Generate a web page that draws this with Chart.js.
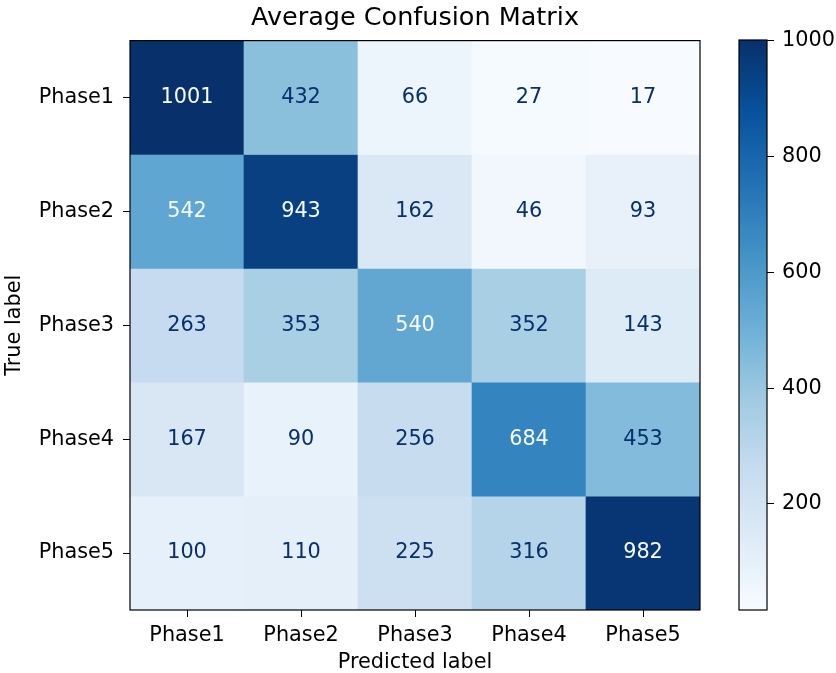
<!DOCTYPE html>
<html>
<head>
<meta charset="utf-8">
<script src="https://cdn.jsdelivr.net/npm/chart.js@4/dist/chart.umd.min.js"></script>
<style>
  body { margin: 0; background: #fff; }
  #wrap { position: relative; width: 836px; height: 673px; }
  #wrap canvas { position: absolute; top: 0; }
  #matrix { left: 0; }
  #cbar { left: 720px; }
</style>
</head>
<body>
<div id="wrap">
  <canvas id="matrix" width="720" height="673"></canvas>
  <canvas id="cbar" width="116" height="673"></canvas>
</div>
<script>
// data
const predictedLabels = ["Phase1", "Phase2", "Phase3", "Phase4", "Phase5"];
const trueLabels = ["Phase1", "Phase2", "Phase3", "Phase4", "Phase5"];
const row1 = [1001, 432, 66, 27, 17];
const row2 = [542, 943, 162, 46, 93];
const row3 = [263, 353, 540, 352, 143];
const row4 = [167, 90, 256, 684, 453];
const row5 = [100, 110, 225, 316, 982];
const rows = [row1, row2, row3, row4, row5];
const colorbarTicks = [200, 400, 600, 800, 1000];

const vmin = Math.min(...rows.flat());
const vmax = Math.max(...rows.flat());

// matplotlib "Blues"
const blues = [
  [247, 251, 255], [222, 235, 247], [198, 219, 239], [158, 202, 225],
  [107, 174, 214], [66, 146, 198], [33, 113, 181], [8, 81, 156], [8, 48, 107]
];

function bluesColor(t) {
  t = Math.max(0, Math.min(1, t));
  const pos = t * (blues.length - 1);
  const i = Math.min(Math.floor(pos), blues.length - 2);
  const f = pos - i;
  const c = blues[i].map((v, k) => Math.round(v + (blues[i + 1][k] - v) * f));
  return `rgb(${c[0]},${c[1]},${c[2]})`;
}

const norm = v => (v - vmin) / (vmax - vmin);
const FONT = "'DejaVu Sans', sans-serif";
const TICK_SIZE = 20.8;

// draws the black frame round the plot area
const framePlugin = {
  id: 'frame',
  afterDatasetsDraw(chart) {
    const { ctx, chartArea: a } = chart;
    ctx.save();
    ctx.strokeStyle = '#000';
    ctx.lineWidth = 1.2;
    ctx.strokeRect(a.left, a.top, a.right - a.left, a.bottom - a.top);
    ctx.restore();
  }
};

// writes the count in each cell
const cellTextPlugin = {
  id: 'cellText',
  afterDatasetsDraw(chart) {
    const { ctx } = chart;
    const xs = chart.scales.x, ys = chart.scales.y;
    const thresh = (vmin + vmax) / 2;
    ctx.save();
    ctx.font = `${TICK_SIZE}px ${FONT}`;
    ctx.textAlign = 'center';
    ctx.textBaseline = 'middle';
    rows.forEach((row, r) => {
      row.forEach((v, c) => {
        ctx.fillStyle = v < thresh ? bluesColor(1) : bluesColor(0);
        ctx.fillText(String(v), xs.getPixelForValue(c), ys.getPixelForValue(r));
      });
    });
    ctx.restore();
  }
};

new Chart(document.getElementById('matrix'), {
  type: 'bar',
  data: {
    labels: predictedLabels,
    datasets: rows.map((row, r) => ({
      label: trueLabels[r],
      data: row.map(() => [r - 0.5, r + 0.5]),
      backgroundColor: row.map(v => bluesColor(norm(v))),
      borderWidth: 0,
      barPercentage: 1,
      categoryPercentage: 1,
      grouped: false
    }))
  },
  options: {
    responsive: false,
    devicePixelRatio: 1,
    animation: false,
    layout: { padding: { top: 0, right: 20, bottom: 0, left: 0 } },
    plugins: {
      legend: { display: false },
      tooltip: { enabled: false },
      title: {
        display: true,
        text: 'Average Confusion Matrix',
        fullSize: false,
        color: '#000',
        font: { family: FONT, size: 25.5, weight: 'normal' },
        padding: { top: 3, bottom: 7 }
      }
    },
    scales: {
      x: {
        type: 'category',
        offset: true,
        grid: { display: true, offset: false, drawOnChartArea: false, drawTicks: true, tickLength: 7, tickColor: '#000' },
        border: { display: false },
        ticks: { color: '#000', font: { family: FONT, size: TICK_SIZE }, padding: 6, maxRotation: 0 },
        title: { display: true, text: 'Predicted label', color: '#000', font: { family: FONT, size: TICK_SIZE }, padding: { top: 0, bottom: -2 } },
        afterFit(scale) { scale.height = 63; }
      },
      y: {
        type: 'linear',
        min: -0.5,
        max: 4.5,
        reverse: true,
        grid: { display: true, drawOnChartArea: false, drawTicks: true, tickLength: 7, tickColor: '#000' },
        border: { display: false },
        afterBuildTicks(scale) { scale.ticks = trueLabels.map((_, i) => ({ value: i })); },
        ticks: {
          color: '#000',
          font: { family: FONT, size: TICK_SIZE },
          padding: 9,
          autoSkip: false,
          callback: v => trueLabels[v]
        },
        title: { display: true, text: 'True label', color: '#000', font: { family: FONT, size: TICK_SIZE }, padding: { top: 2.5, bottom: 0 } },
        afterFit(scale) { scale.width = 130; }
      }
    }
  },
  plugins: [framePlugin, cellTextPlugin]
});

// colorbar
new Chart(document.getElementById('cbar'), {
  type: 'bar',
  data: {
    labels: [''],
    datasets: [{
      data: [[vmin, vmax]],
      borderWidth: 0,
      barPercentage: 1,
      categoryPercentage: 1,
      backgroundColor(ctx) {
        const a = ctx.chart.chartArea;
        if (!a) return bluesColor(0.5);
        const ys = ctx.chart.scales.y;
        const g = ctx.chart.ctx.createLinearGradient(0, ys.getPixelForValue(vmin), 0, ys.getPixelForValue(vmax));
        blues.forEach((c, i) => g.addColorStop(i / (blues.length - 1), `rgb(${c[0]},${c[1]},${c[2]})`));
        return g;
      }
    }]
  },
  options: {
    responsive: false,
    devicePixelRatio: 1,
    animation: false,
    layout: { padding: { top: 40, right: 0, bottom: 63, left: 19 } },
    plugins: { legend: { display: false }, tooltip: { enabled: false } },
    scales: {
      x: { display: false },
      y: {
        type: 'linear',
        position: 'right',
        min: vmin,
        max: vmax,
        grid: { display: true, drawOnChartArea: false, drawTicks: true, tickLength: 7, tickColor: '#000' },
        border: { display: false },
        afterBuildTicks(scale) { scale.ticks = colorbarTicks.map(v => ({ value: v })); },
        ticks: { color: '#000', font: { family: FONT, size: TICK_SIZE }, padding: 8, callback: v => String(v) },
        afterFit(scale) { scale.width = 69; }
      }
    }
  },
  plugins: [framePlugin]
});
</script>
</body>
</html>
